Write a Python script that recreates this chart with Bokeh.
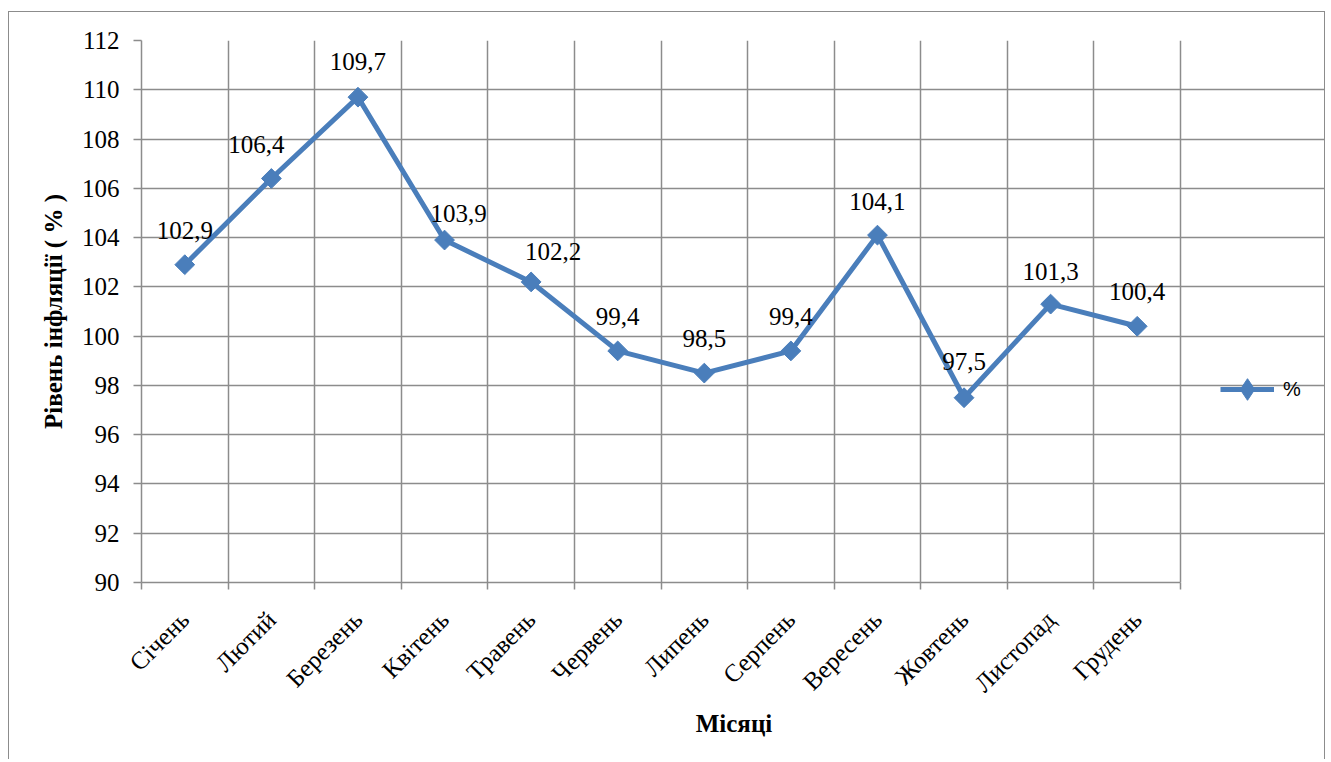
import math
from bokeh.plotting import figure
from bokeh.models import (ColumnDataSource, FixedTicker, LinearAxis, Range1d, LabelSet,
                          Legend, LegendItem, Grid)
from bokeh.embed import file_html
from bokeh.resources import INLINE

# ---- data ----
months = ["Січень", "Лютий", "Березень", "Квітень", "Травень", "Червень",
          "Липень", "Серпень", "Вересень", "Жовтень", "Листопад", "Грудень"]
inflation = [102.9, 106.4, 109.7, 103.9, 102.2, 99.4, 98.5, 99.4, 104.1, 97.5, 101.3, 100.4]
y_ticks = [90, 92, 94, 96, 98, 100, 102, 104, 106, 108, 110, 112]
series_name = "%"
x_title = "Місяці"
y_title = "Рівень інфляції ( % )"

# label nudges (pixels) for the data labels, as placed in the original
label_dx = [0, -15, 0, 14, 22, 0, 0, 0, 0, 0, 0, 0]
label_dy = [34, 34, 36, 27, 30, 34, 35, 34, 34, 36, 33, 35]

n = len(months)
centers = [i + 0.5 for i in range(n)]
bounds = [float(i) for i in range(n + 1)]

BLUE = "#4A7EBB"
GRID = "#8C8C8C"
SERIF = "Liberation Serif"
FS = "25px"

# layout (pixels)
W, H = 1317, 748
LEFT, TOP, BOTTOM = 132, 28, 178
GRID_W = 1039          # width of the gridded plot area; the rest holds the legend
FRAME_W = W - LEFT
x_end = n * FRAME_W / GRID_W

src = ColumnDataSource(dict(
    x=centers, y=inflation,
    lbl=[f"{v:.1f}".replace(".", ",") for v in inflation],
    dx=label_dx, dy=label_dy,
))

p = figure(width=W, height=H, output_backend="svg", toolbar_location=None,
           x_range=Range1d(0, x_end), y_range=Range1d(y_ticks[0], y_ticks[-1]),
           x_axis_type=None, y_axis_type=None,
           min_border_left=LEFT, min_border_right=0, min_border_top=TOP,
           min_border_bottom=BOTTOM)
p.styles = {"margin-left": "8px", "margin-top": "11px",
            "border-left": "1px solid #8C8C8C", "border-top": "1px solid #8C8C8C",
            "border-right": "1px solid #8C8C8C"}
p.outline_line_color = None
p.background_fill_color = "white"
p.border_fill_color = "white"

# x axis: labels at category centres, tick marks at boundaries
xt = FixedTicker(ticks=centers, minor_ticks=bounds)
xaxis = LinearAxis(ticker=xt, bounds=(0, n))
xaxis.major_label_overrides = {c: m for c, m in zip(centers, months)}
xaxis.major_label_orientation = math.pi / 4
xaxis.major_tick_out = 0
xaxis.major_tick_in = 0
xaxis.minor_tick_out = 7
xaxis.minor_tick_in = 0
xaxis.minor_tick_line_color = GRID
xaxis.minor_tick_line_width = 1.5
xaxis.axis_line_color = GRID
xaxis.axis_line_width = 1.5
xaxis.major_label_text_font = SERIF
xaxis.major_label_text_font_size = FS
xaxis.major_label_text_color = "black"
xaxis.major_label_standoff = 26
xaxis.axis_label = x_title
xaxis.axis_label_text_font = SERIF
xaxis.axis_label_text_font_style = "bold"
xaxis.axis_label_text_font_size = FS
xaxis.axis_label_text_color = "black"
xaxis.axis_label_standoff = 0
p.add_layout(xaxis, "below")

yt = FixedTicker(ticks=y_ticks)
yaxis = LinearAxis(ticker=yt)
yaxis.major_tick_out = 8
yaxis.major_tick_in = 0
yaxis.minor_tick_line_color = None
yaxis.major_tick_line_color = GRID
yaxis.major_tick_line_width = 1.5
yaxis.axis_line_color = GRID
yaxis.axis_line_width = 1.5
yaxis.major_label_text_font = SERIF
yaxis.major_label_text_font_size = FS
yaxis.major_label_text_color = "black"
yaxis.major_label_standoff = 14
yaxis.axis_label = y_title
yaxis.axis_label_text_font = SERIF
yaxis.axis_label_text_font_style = "bold"
yaxis.axis_label_text_font_size = FS
yaxis.axis_label_text_color = "black"
yaxis.axis_label_standoff = 12
p.add_layout(yaxis, "left")

xg = Grid(dimension=0, ticker=xt, grid_line_color=None, bounds=(y_ticks[0], y_ticks[-1]),
          minor_grid_line_color=GRID, minor_grid_line_width=1.5)
yg = Grid(dimension=1, ticker=yt, grid_line_color=GRID, grid_line_width=1.5, bounds=(0, n))
p.add_layout(xg)
p.add_layout(yg)

ln = p.line("x", "y", source=src, line_color=BLUE, line_width=5, line_join="round")
# diamond used as the legend swatch (sits fully under the rotated squares)
dm = p.scatter("x", "y", source=src, marker="diamond", size=14,
               fill_color=BLUE, line_color=BLUE, line_width=1)
mk = p.scatter("x", "y", source=src, marker="square", angle=math.pi / 4, size=14,
               fill_color=BLUE, line_color=BLUE, line_width=1)

labels = LabelSet(x="x", y="y", text="lbl", source=src, x_offset="dx", y_offset="dy",
                  text_align="center", text_baseline="middle",
                  text_font=SERIF, text_font_size=FS, text_color="black")
p.add_layout(labels)

legend = Legend(items=[LegendItem(label=series_name, renderers=[ln, dm])],
                location=(1079, 166), padding=0, margin=0, border_line_color=None,
                background_fill_alpha=0, glyph_width=54, glyph_height=54,
                label_standoff=9, label_text_font="Liberation Sans",
                label_text_color="black",
                label_text_font_size="20px", label_text_baseline="middle")
p.add_layout(legend, "center")

open("out.html", "w").write(file_html(p, INLINE))
